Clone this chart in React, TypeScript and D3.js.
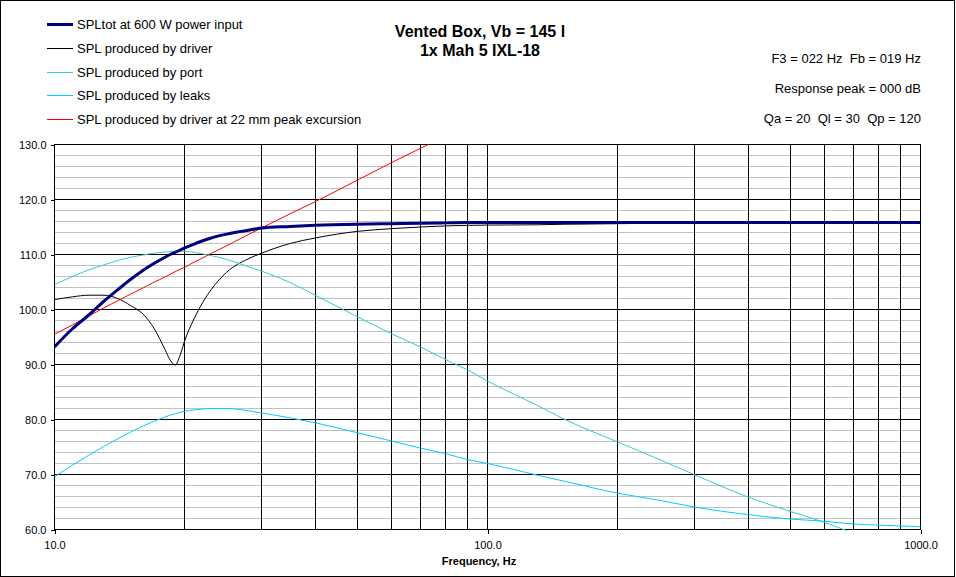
import { useEffect, useRef } from 'react';
import * as d3 from 'd3';

// frequencies (Hz) the curves were read at
const frequencies = [
  10, 11, 12, 13, 14, 15, 16, 17, 18, 18.5, 19, 19.5, 20, 21, 22, 23, 25, 28, 30, 35,
  40, 50, 60, 70, 80, 90, 100, 130, 150, 200, 250, 300, 400, 500, 600, 700, 800, 1000,
];

const splTotal = [
  93.2, 96.5, 99.0, 101.5, 103.6, 105.5, 107.1, 108.4, 109.5, 110.0, 110.4, 110.8, 111.2, 111.9, 112.5, 113.0, 113.7, 114.4, 114.8, 115.1,
  115.3, 115.5, 115.6, 115.7, 115.75, 115.8, 115.8, 115.8, 115.8, 115.8, 115.8, 115.8, 115.8, 115.8, 115.8, 115.8, 115.8, 115.8,
];

const splDriver = [
  101.8, 102.3, 102.6, 102.6, 102.0, 100.7, 99.2, 96.5, 92.7, 90.8, 89.9, 91.7, 94.4, 98.3, 101.3, 103.6, 106.8, 109.2, 110.2, 112.0,
  113.0, 114.2, 114.7, 115.0, 115.2, 115.3, 115.35, 115.4, 115.5, 115.6, 115.7, 115.7, 115.8, 115.8, 115.8, 115.8, 115.8, 115.8,
];

const splPort = [
  104.5, 106.0, 107.2, 108.1, 108.9, 109.5, 109.9, 110.25, 110.45, 110.55, 110.6, 110.6, 110.6, 110.4, 110.1, 109.8, 109.1, 107.8, 107.0, 104.9,
  102.6, 98.7, 95.6, 93.2, 90.9, 89.0, 87.0, 82.6, 80.1, 75.9, 72.7, 70.0, 65.9, 63.3, 61.3, 59.3, 57.6, 54.5,
];

const splLeaks = [
  69.6, 71.7, 73.5, 75.1, 76.5, 77.7, 78.8, 79.7, 80.45, 80.8, 81.05, 81.3, 81.5, 81.75, 81.9, 82.0, 82.0, 81.6, 81.2, 80.3,
  79.4, 77.6, 76.1, 74.8, 73.8, 72.7, 72.0, 69.9, 68.8, 66.6, 65.3, 64.1, 62.7, 61.9, 61.5, 61.0, 60.8, 60.5,
];

const splExcursion: (number | null)[] = [
  95.5, 97.2, 98.8, 100.3, 101.6, 102.8, 103.9, 105.0, 105.9, 106.4, 106.9, 107.3, 107.7, 108.6, 109.4, 110.2, 111.6, 113.6, 114.8, 117.4,
  119.6, 123.5, 126.7, 129.3, 131.6, null, null, null, null, null, null, null, null, null, null, null, null, null,
];

const seriesNames = [
  'SPLtot at 600 W power input',
  'SPL produced by driver',
  'SPL produced by port',
  'SPL produced by leaks',
  'SPL produced by driver at 22 mm peak excursion',
];
const seriesColors = ['#000080', '#000000', '#33CCCC', '#00CCFF', '#FF0000'];
const seriesWidths = [3, 1, 1, 1, 1];

const yTicks = [60, 70, 80, 90, 100, 110, 120, 130];
const xLabelTicks = [10, 100, 1000];

const titleLines = ['Vented Box, Vb = 145 l', '1x Mah 5 IXL-18'];
const infoLines = ['F3 = 022 Hz  Fb = 019 Hz', 'Response peak = 000 dB', 'Qa = 20  Ql = 30  Qp = 120'];

export default function App() {
  const ref = useRef<SVGSVGElement>(null);

  useEffect(() => {
    if (!ref.current) return;
    document.body.style.margin = '0';

    const svg = d3.select(ref.current);
    svg.selectAll('*').remove();

    const width = 956;
    const height = 577;
    const left = 54, right = 920, top = 144, bottom = 529;

    svg.attr('width', width).attr('height', height)
      .style('display', 'block')
      .style('font-family', 'Arial, "Liberation Sans", sans-serif');

    const x = d3.scaleLog().domain([10, 1000]).range([left, right]);
    const y = d3.scaleLinear().domain([60, 130]).range([bottom, top]);

    // outer frame
    svg.append('rect')
      .attr('x', 0.5).attr('y', 0.5)
      .attr('width', 954).attr('height', 576)
      .attr('fill', '#fff').attr('stroke', '#000');

    const g = svg.append('g').attr('transform', 'translate(0.5,0.5)');

    // minor horizontal grid
    g.append('g')
      .selectAll('line')
      .data(y.ticks(35).filter(v => v % 10 !== 0))
      .join('line')
      .attr('x1', left).attr('x2', right)
      .attr('y1', d => y(d)).attr('y2', d => y(d))
      .attr('stroke', '#C0C0C0')
      .attr('shape-rendering', 'crispEdges');

    // major horizontal grid
    g.append('g')
      .selectAll('line')
      .data(yTicks)
      .join('line')
      .attr('x1', left).attr('x2', right)
      .attr('y1', d => y(d)).attr('y2', d => y(d))
      .attr('stroke', '#000')
      .attr('shape-rendering', 'crispEdges');

    // vertical grid (log decades)
    g.append('g')
      .selectAll('line')
      .data(x.ticks())
      .join('line')
      .attr('x1', d => x(d)).attr('x2', d => x(d))
      .attr('y1', top).attr('y2', bottom)
      .attr('stroke', '#000')
      .attr('shape-rendering', 'crispEdges');

    // plot border
    g.append('rect')
      .attr('x', left).attr('y', top)
      .attr('width', right - left).attr('height', bottom - top)
      .attr('fill', 'none').attr('stroke', '#000')
      .attr('shape-rendering', 'crispEdges');

    // Y axis
    const yAxis = g.append('g')
      .attr('transform', `translate(${left},0)`)
      .call(d3.axisLeft(y).tickValues(yTicks).tickFormat(d3.format('.1f')).tickSize(4).tickPadding(4));
    yAxis.select('.domain').remove();
    yAxis.selectAll('line').attr('stroke', '#000').attr('shape-rendering', 'crispEdges');
    yAxis.selectAll('text').attr('fill', '#000').style('font-size', '11px')
      .style('font-family', 'Arial, "Liberation Sans", sans-serif');

    // X axis
    const xAxis = g.append('g')
      .attr('transform', `translate(0,${bottom})`)
      .call(d3.axisBottom(x).tickValues(xLabelTicks).tickFormat(d3.format('.1f')).tickSize(4).tickPadding(8));
    xAxis.select('.domain').remove();
    xAxis.selectAll('line').attr('stroke', '#000').attr('shape-rendering', 'crispEdges');
    xAxis.selectAll('text').attr('fill', '#000').style('font-size', '11px')
      .style('font-family', 'Arial, "Liberation Sans", sans-serif');

    svg.append('text')
      .attr('x', 479).attr('y', 565)
      .attr('text-anchor', 'middle')
      .style('font-size', '11px').style('font-weight', 'bold')
      .text('Frequency, Hz');

    // curves
    svg.append('clipPath').attr('id', 'plot-clip')
      .append('rect')
      .attr('x', left).attr('y', top)
      .attr('width', right - left + 1).attr('height', bottom - top + 1);

    const line = d3.line<number | null>()
      .defined(d => d != null)
      .x((_, i) => x(frequencies[i]))
      .y(d => y(d as number))
      .curve(d3.curveMonotoneX);

    const allSeries = [splTotal, splDriver, splPort, splLeaks, splExcursion];
    const drawOrder = [1, 2, 3, 4, 0];
    const curves = g.append('g').attr('clip-path', 'url(#plot-clip)');
    drawOrder.forEach(i => {
      curves.append('path')
        .datum(allSeries[i])
        .attr('d', line)
        .attr('fill', 'none')
        .attr('stroke', seriesColors[i])
        .attr('stroke-width', seriesWidths[i])
        .attr('stroke-linejoin', 'round');
    });

    // legend
    const legend = svg.append('g');
    seriesNames.forEach((name, i) => {
      const cy = Math.round(24 + i * 23.75);
      legend.append('rect')
        .attr('x', 47).attr('width', 26)
        .attr('y', seriesWidths[i] === 3 ? cy - 1 : cy).attr('height', seriesWidths[i] === 3 ? 3 : 1)
        .attr('fill', seriesColors[i]);
      legend.append('text')
        .attr('x', 77).attr('y', cy + 5)
        .style('font-size', '13px')
        .text(name);
    });

    // title
    titleLines.forEach((t, i) => {
      svg.append('text')
        .attr('x', 480).attr('y', 37 + i * 19)
        .attr('text-anchor', 'middle')
        .style('font-size', '16px').style('font-weight', 'bold')
        .text(t);
    });

    // info text on the right
    infoLines.forEach((t, i) => {
      svg.append('text')
        .attr('x', 921).attr('y', 63 + i * 30)
        .attr('text-anchor', 'end')
        .style('font-size', '13px')
        .style('white-space', 'pre')
        .text(t);
    });
  }, []);

  return <svg ref={ref}></svg>;
}
